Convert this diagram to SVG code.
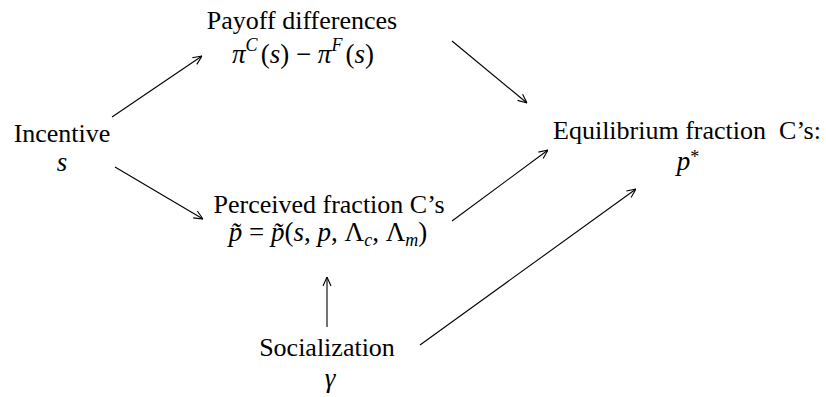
<svg xmlns="http://www.w3.org/2000/svg" width="826" height="397" viewBox="0 0 826 397">
<style>
text{font-family:'Liberation Serif','DejaVu Serif',serif;font-size:26px;fill:#000}
.m{font-size:27px}
.i{font-style:italic}
.s{font-size:18px}
.c{stroke:#000;stroke-width:1.1;fill:none}
</style>
<defs>
<marker id="arr" viewBox="0 0 10 10" refX="10" refY="5" markerWidth="10" markerHeight="10" markerUnits="userSpaceOnUse" orient="auto">
<path d="M1,1 L10,5 L1,9" fill="none" stroke="#000" stroke-width="1.1"/>
</marker>
</defs>
<rect width="826" height="397" fill="#fff"/>
<g id="connectors">
<line class="c" x1="112" y1="117" x2="202" y2="56" marker-end="url(#arr)"/>
<line class="c" x1="115" y1="167" x2="203" y2="219" marker-end="url(#arr)"/>
<line class="c" x1="452" y1="41" x2="527" y2="103" marker-end="url(#arr)"/>
<line class="c" x1="452" y1="221" x2="548" y2="150" marker-end="url(#arr)"/>
<line class="c" x1="327" y1="327" x2="327" y2="277" marker-end="url(#arr)"/>
<line class="c" x1="420" y1="345" x2="636" y2="189" marker-end="url(#arr)"/>
</g>
<g id="payoff">
<text x="302" y="29" text-anchor="middle">Payoff differences</text>
<text x="303" y="63" text-anchor="middle" class="m"><tspan class="i">π</tspan><tspan class="s i" dy="-12">C</tspan><tspan dy="12" dx="3">(</tspan><tspan class="i">s</tspan>) − <tspan class="i">π</tspan><tspan class="s i" dy="-12">F</tspan><tspan dy="12" dx="3">(</tspan><tspan class="i">s</tspan>)</text>
</g>
<g id="incentive">
<text x="62" y="142" text-anchor="middle">Incentive</text>
<text x="62" y="171" text-anchor="middle" class="m i">s</text>
</g>
<g id="perceived">
<text x="329" y="213" text-anchor="middle">Perceived fraction C’s</text>
<text x="328" y="241" text-anchor="middle" class="m"><tspan class="i">p̃</tspan> = <tspan class="i">p̃</tspan>(<tspan class="i">s</tspan>, <tspan class="i">p</tspan>, Λ<tspan class="s i" dy="5">c</tspan><tspan dy="-5">, Λ</tspan><tspan class="s i" dy="5">m</tspan><tspan dy="-5">)</tspan></text>
</g>
<g id="equilibrium">
<text x="687" y="139" text-anchor="middle" xml:space="preserve">Equilibrium fraction  C’s:</text>
<text x="688" y="170" text-anchor="middle" class="m"><tspan class="i">p</tspan><tspan class="s" dy="-7">*</tspan></text>
</g>
<g id="socialization">
<text x="327" y="356" text-anchor="middle">Socialization</text>
<text x="330" y="387" text-anchor="middle" class="m i">γ</text>
</g>
</svg>
